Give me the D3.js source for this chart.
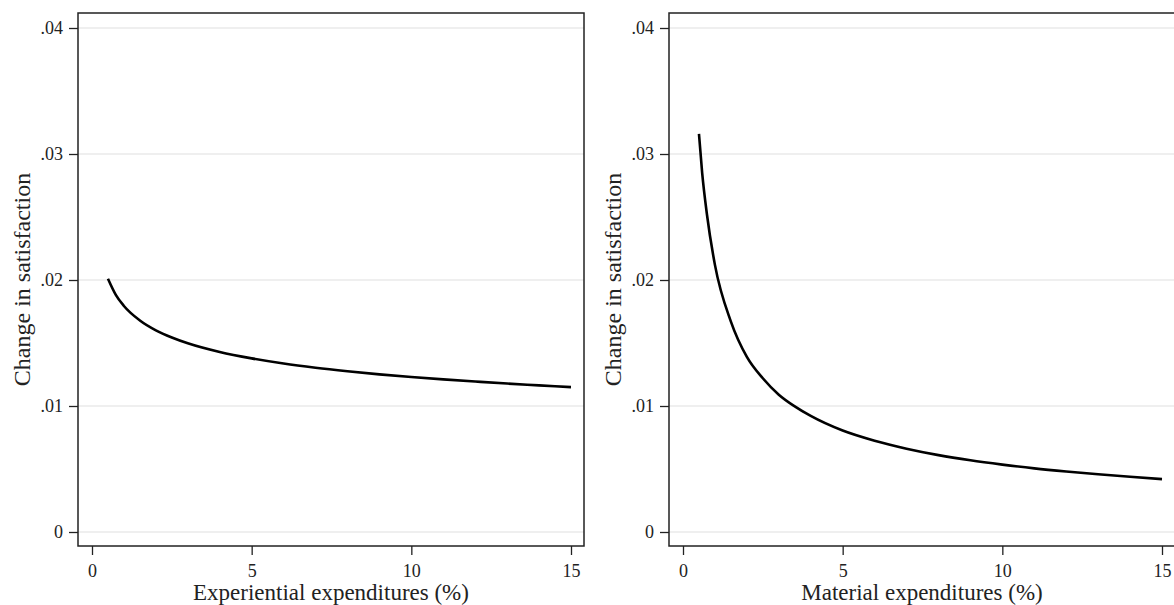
<!DOCTYPE html>
<html>
<head>
<meta charset="utf-8">
<script src="https://cdn.jsdelivr.net/npm/d3@7"></script>
<style>
  body { margin: 0; background: #fff; }
  svg { display: block; }
  text { font-family: "Liberation Serif", "Times New Roman", serif; fill: #222; }
</style>
</head>
<body>
<div id="wrapper"></div>
<script>
// x values (expenditure share, %) and predicted change in satisfaction
const expX = [0.5, 0.75, 1, 1.5, 2, 2.5, 3, 4, 5, 6, 7, 8, 9, 10, 11, 12, 13, 14, 15];
const expY = [0.0201, 0.0188, 0.01794, 0.01679, 0.01601, 0.01544, 0.01498, 0.01429, 0.01378,
              0.01337, 0.01304, 0.01276, 0.01251, 0.0123, 0.01211, 0.01194, 0.01178, 0.01164, 0.0115];

const matX = [0.5, 0.6, 0.75, 1, 1.5, 2, 2.5, 3, 3.5, 4, 5, 6, 7, 8, 9, 10, 11, 12, 13, 14, 15];
const matY = [0.0316, 0.0285, 0.0252, 0.0212, 0.0167, 0.0139, 0.0122, 0.0109, 0.00997, 0.00921, 0.00805,
              0.00724, 0.00661, 0.0061, 0.00569, 0.00535, 0.00505, 0.0048, 0.00458, 0.00438, 0.0042];

const yTicks = [0, 0.01, 0.02, 0.03, 0.04];
const yTickLabels = ["0", ".01", ".02", ".03", ".04"];
const xTicks = [0, 5, 10, 15];

const panels = [
  { xs: expX, ys: expY, title: "Experiential expenditures (%)", left: 78 },
  { xs: matX, ys: matY, title: "Material expenditures (%)", left: 669 }
];

const width = 1174, height = 605;
const plotW = 506, plotTop = 13, plotBottom = 546;

const svg = d3.select("#wrapper").append("svg")
  .attr("width", width)
  .attr("height", height);

function styleTicks(a) {
  a.select(".domain").remove();
  a.selectAll("line").attr("stroke", "#222").attr("stroke-width", 1.3);
  a.selectAll("text")
    .attr("font-size", 18)
    .attr("font-family", "Liberation Serif")
    .attr("fill", "#222");
}

panels.forEach(p => {
  const x = d3.scaleLinear().domain([0, 15]).range([p.left + 14, p.left + 493]);
  const y = d3.scaleLinear().domain([0, 0.04]).range([532, 28]);
  const g = svg.append("g");

  // gridlines
  g.selectAll(".grid").data(yTicks).join("line")
    .attr("x1", p.left).attr("x2", p.left + plotW)
    .attr("y1", d => y(d)).attr("y2", d => y(d))
    .attr("stroke", "#eaeaea").attr("stroke-width", 1.5);

  // curve
  const data = p.xs.map((v, i) => [v, p.ys[i]]);
  g.append("path")
    .attr("d", d3.line().x(d => x(d[0])).y(d => y(d[1])).curve(d3.curveMonotoneX)(data))
    .attr("fill", "none")
    .attr("stroke", "#000")
    .attr("stroke-width", 2.6);

  // frame
  g.append("rect")
    .attr("x", p.left).attr("y", plotTop)
    .attr("width", plotW).attr("height", plotBottom - plotTop)
    .attr("fill", "none").attr("stroke", "#222").attr("stroke-width", 1.5);

  // y axis
  const yAxis = d3.axisLeft(y).tickValues(yTicks)
    .tickFormat((d, i) => yTickLabels[i]).tickSize(9).tickPadding(6);
  g.append("g")
    .attr("transform", `translate(${p.left},0)`)
    .call(yAxis)
    .call(styleTicks);

  // x axis
  const xAxis = d3.axisBottom(x).tickValues(xTicks).tickSize(9).tickPadding(9);
  g.append("g")
    .attr("transform", `translate(0,${plotBottom})`)
    .call(xAxis)
    .call(styleTicks);

  // titles
  g.append("text")
    .attr("x", p.left + plotW / 2).attr("y", 600)
    .attr("text-anchor", "middle")
    .attr("font-size", 23)
    .text(p.title);

  g.append("text")
    .attr("transform", `translate(${p.left - 48},${(plotTop + plotBottom) / 2}) rotate(-90)`)
    .attr("text-anchor", "middle")
    .attr("font-size", 24)
    .text("Change in satisfaction");
});
</script>
</body>
</html>
